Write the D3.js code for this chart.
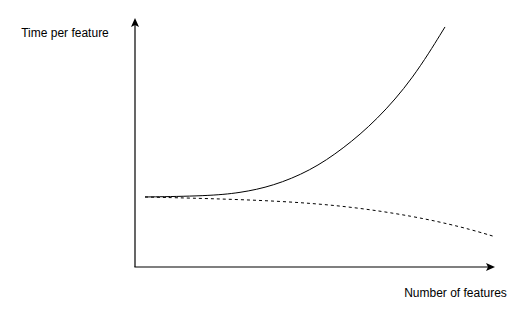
<!DOCTYPE html>
<html>
<head>
<meta charset="utf-8">
<script src="https://cdn.jsdelivr.net/npm/d3@7"></script>
<style>
  body { margin: 0; background: #fff; }
  text { font-family: "Liberation Sans", Arial, Helvetica, sans-serif; font-size: 12px; fill: #000; }
</style>
</head>
<body>
<div id="chart"></div>
<script>
// (features on x, time per feature on y)
var xLabel = "Number of features";
var yLabel = "Time per feature";

var solidX = [1.0, 7.2, 10.5, 13.8, 17.5, 20.8, 24.2, 27.8, 31.0];
var solidY = [7.03, 7.13, 7.43, 8.13, 9.64, 11.85, 14.76, 18.88, 24.1];

var dashedX = [1.0, 7.2, 14.5, 21.2, 27.8, 32.8, 36.0];
var dashedY = [7.03, 6.88, 6.63, 6.12, 5.12, 4.0, 3.04];

var svgWidth = 530;
var svgHeight = 316;

var svg = d3.select("#chart")
  .append("svg")
  .attr("width", svgWidth)
  .attr("height", svgHeight);

// Scales: origin at the axes corner
var xScale = d3.scaleLinear().domain([0, 36]).range([135, 495]);
var yScale = d3.scaleLinear().domain([0, 25]).range([267, 18]);

var x0 = xScale(0), y0 = yScale(0);
var xEnd = xScale.range()[1], yEnd = yScale.range()[1];

// axes with arrowheads
svg.append("line")
  .attr("x1", x0).attr("y1", y0)
  .attr("x2", x0).attr("y2", yEnd + 6)
  .attr("stroke", "#000").attr("stroke-width", 1.2);
svg.append("path")
  .attr("d", `M${x0},${yEnd} L${x0 - 4},${yEnd + 9} L${x0},${yEnd + 7} L${x0 + 4},${yEnd + 9} Z`)
  .attr("fill", "#000");

svg.append("line")
  .attr("x1", x0 - 0.6).attr("y1", y0)
  .attr("x2", xEnd - 6).attr("y2", y0)
  .attr("stroke", "#000").attr("stroke-width", 1.2);
svg.append("path")
  .attr("d", `M${xEnd},${y0} L${xEnd - 9},${y0 - 4} L${xEnd - 7},${y0} L${xEnd - 9},${y0 + 4} Z`)
  .attr("fill", "#000");

// axis labels
svg.append("text")
  .attr("x", 65).attr("y", 37)
  .attr("text-anchor", "middle")
  .text(yLabel);

svg.append("text")
  .attr("x", 455.5).attr("y", 296.5)
  .attr("text-anchor", "middle")
  .text(xLabel);

var line = d3.line()
  .x(d => xScale(d[0]))
  .y(d => yScale(d[1]))
  .curve(d3.curveBasis);

svg.append("path")
  .datum(dashedX.map((v, i) => [v, dashedY[i]]))
  .attr("d", line)
  .attr("fill", "none")
  .attr("stroke", "#000")
  .attr("stroke-width", 1)
  .attr("stroke-dasharray", "3,3");

svg.append("path")
  .datum(solidX.map((v, i) => [v, solidY[i]]))
  .attr("d", line)
  .attr("fill", "none")
  .attr("stroke", "#000")
  .attr("stroke-width", 1);
</script>
</body>
</html>
